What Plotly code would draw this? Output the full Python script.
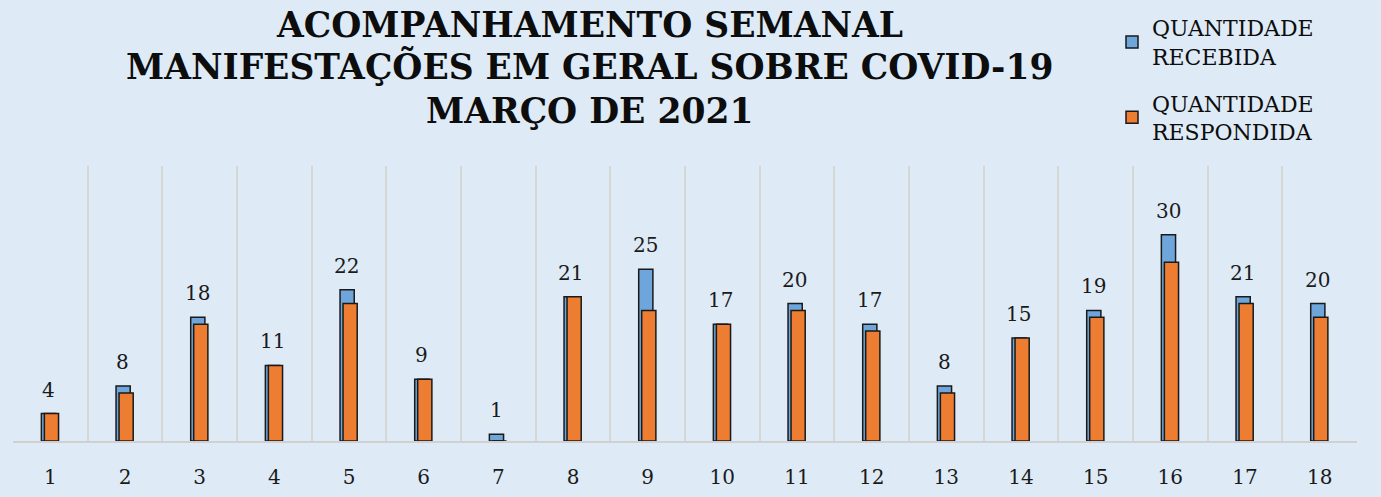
import plotly.graph_objects as go

semanas = [str(i) for i in range(1, 19)]
recebida = [4, 8, 18, 11, 22, 9, 1, 21, 25, 17, 20, 17, 8, 15, 19, 30, 21, 20]
respondida = [4, 7, 17, 11, 20, 9, 0, 21, 19, 17, 19, 16, 7, 15, 18, 26, 20, 18]

titulo = ["ACOMPANHAMENTO SEMANAL",
          "MANIFESTAÇÕES EM GERAL SOBRE COVID-19",
          "MARÇO DE 2021"]

BG = "#deebf7"
FONT = "DejaVu Serif"
xs = list(range(1, 19))

fig = go.Figure()
fig.add_trace(go.Bar(
    x=xs, y=recebida, name="QUANTIDADE<br>RECEBIDA",
    marker=dict(color="#6ea6dc", line=dict(color="#1a1a1a", width=1.5)),
    width=0.19, offset=-0.12, legendgroup="a",
))
fig.add_trace(go.Bar(
    x=xs, y=respondida, name="QUANTIDADE<br>RESPONDIDA",
    marker=dict(color="#ed7d31", line=dict(color="#1a1a1a", width=1.5)),
    width=0.19, offset=-0.08, legendgroup="b",
))

for x, v in zip(xs, recebida):
    fig.add_annotation(x=x - 0.03, y=v, text=str(v), showarrow=False,
                       yanchor="bottom", yshift=10,
                       font=dict(family=FONT, size=20, color="#1a1a1a"))

for t, yy in zip(titulo, [25, 67, 111]):
    fig.add_annotation(xref="paper", yref="paper", x=(589 - 13) / 1344,
                       y=(441 - yy) / 275, text="<b>" + t + "</b>",
                       showarrow=False, xanchor="center", yanchor="middle",
                       font=dict(family=FONT, size=34.5, color="#0d0d0d"))

fig.update_layout(
    width=1381, height=497,
    paper_bgcolor=BG, plot_bgcolor=BG,
    margin=dict(l=13, r=24, t=166, b=56, autoexpand=False),
    barmode="overlay",
    showlegend=True,
    legend=dict(x=(1112 - 13) / 1344, y=(441 - 7) / 275, xanchor="left",
                yanchor="top", bgcolor="rgba(0,0,0,0)",
                font=dict(family=FONT, size=22, color="#0d0d0d"),
                tracegroupgap=15, itemwidth=30),
    xaxis=dict(range=[0.5, 18.5], tickmode="array", tickvals=xs,
               ticktext=semanas, showgrid=False, showline=True,
               linecolor="#d0d0d0", linewidth=1.5, ticks="", ticklen=0,
               ticklabelstandoff=17, automargin=False,
               tickfont=dict(family=FONT, size=20, color="#1a1a1a"),
               minor=dict(tick0=0.5, dtick=1, showgrid=True,
                          gridcolor="#d6d6d6", gridwidth=1.5),
               zeroline=False, fixedrange=True),
    yaxis=dict(range=[0, 40], visible=False, showgrid=False, zeroline=False,
               fixedrange=True, automargin=False),
)

fig.write_html("out.html", config={"displayModeBar": False},
               post_script="document.body.style.margin='0';document.body.style.padding='0';")
